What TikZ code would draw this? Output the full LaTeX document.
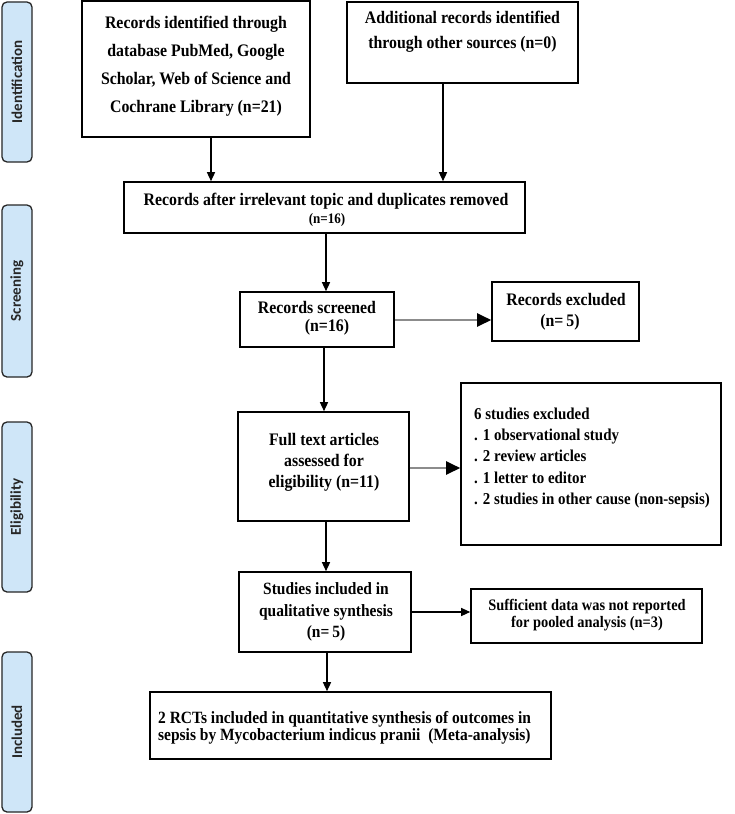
\documentclass[tikz,border=0pt]{standalone}
\usepackage{fontspec}
\setmainfont[FakeStretch=0.9]{Liberation Serif}
\newfontfamily\sidefont{Carlito}
\usetikzlibrary{arrows.meta}
\definecolor{sideblue}{RGB}{207,230,248}
\definecolor{graylink}{RGB}{140,140,140}
\begin{document}
\begin{tikzpicture}[x=1bp,y=-1bp,
  side/.style={draw=black!85, line width=1.3bp, fill=sideblue, rounded corners=5bp, inner sep=0pt, minimum width=30bp},
  sidetxt/.style={font=\sidefont\bfseries\fontsize{15bp}{16bp}\selectfont, text=black!85, rotate=90, inner sep=0pt},
  box/.style={draw, line width=1.6bp, inner sep=0pt},
  txt/.style={inner sep=0pt, font=\bfseries\fontsize{17.6bp}{21bp}\selectfont, align=center},
  arr/.style={line width=1.4bp, -{Triangle[length=9bp,width=8bp]}},
  garr/.style={draw=graylink, line width=2.4bp, -{Triangle[length=14bp,width=13bp,fill=black,color=black]}},
  narr/.style={line width=1.2bp, -{Triangle[length=9bp,width=8bp]}}]
\useasboundingbox (0,0) rectangle (735,814);

% side labels
\node[side, minimum height=160bp] (sid) at (17,82) {};
\node[sidetxt] (sidt) at (sid.center) {Identification};
\node[side, minimum height=172bp] (sscr) at (17,291) {};
\node[sidetxt] (sscrt) at (sscr.center) {Screening};
\node[side, minimum height=170bp] (selig) at (17,507) {};
\node[sidetxt] (seligt) at (selig.center) {Eligibility};
\node[side, minimum height=160bp] (sinc) at (17,732) {};
\node[sidetxt] (sinct) at (sinc.center) {Included};

% boxes
\node[box, minimum width=228bp, minimum height=136bp] (b1) at (196,69) {};
\node[txt, font=\bfseries\fontsize{17.6bp}{28bp}\selectfont] (b1t) at (196,66) {Records identified through\\database PubMed, Google\\Scholar, Web of Science and\\Cochrane Library (n=21)};

\node[box, minimum width=231bp, minimum height=81bp] (b2) at (462.5,42.5) {};
\node[txt, font=\bfseries\fontsize{17.6bp}{25bp}\selectfont] (b2t) at (462.5,32) {Additional records identified\\through other sources (n=0)};

\node[box, minimum width=401bp, minimum height=51bp] (b3) at (324.5,207.5) {};
\node[txt] (b3t) at (326,201) {Records after irrelevant topic and duplicates removed};
\node[txt, font=\bfseries\fontsize{14.5bp}{15bp}\selectfont] (b3n) at (327,220) {(n=16)};

\node[box, minimum width=154bp, minimum height=55bp] (b4) at (317,319.5) {};
\node[txt] (b4t) at (317,307) {Records screened};
\node[txt] (b4n) at (327,327) {(n=16)};

\node[box, minimum width=147bp, minimum height=59bp] (b5) at (565.5,311.5) {};
\node[txt] (b5t) at (566,299) {Records excluded};
\node[txt] (b5n) at (560,322) {(n=\,5)};

\node[box, minimum width=171bp, minimum height=109bp] (b6) at (323.5,466.5) {};
\node[txt] (b6t) at (324,462) {Full text articles\\assessed for\\eligibility (n=11)};

\node[box, minimum width=260bp, minimum height=162bp] (b7) at (591,464) {};
\node[txt, font=\bfseries\fontsize{16.6bp}{21.2bp}\selectfont, align=left, anchor=west] (b7t) at (474,458) {6 studies excluded\\. 1 observational study\\. 2 review articles\\. 1 letter to editor\\. 2 studies in other cause (non-sepsis)};

\node[box, minimum width=172bp, minimum height=80bp] (b8) at (325,612) {};
\node[txt, font=\bfseries\fontsize{17.2bp}{21.5bp}\selectfont] (b8t) at (326,612) {Studies included in\\qualitative synthesis\\(n=\,5)};

\node[box, minimum width=231bp, minimum height=54bp] (b9) at (586.5,616) {};
\node[txt, font=\bfseries\fontsize{16bp}{17bp}\selectfont] (b9t) at (587,615) {Sufficient data was not reported\\for pooled analysis (n=3)};

\node[box, minimum width=401bp, minimum height=67bp] (b10) at (350.5,725.5) {};
\node[txt, font=\bfseries\fontsize{17.2bp}{17bp}\selectfont, align=left, anchor=west] (b10t) at (158,728) {2 RCTs included in quantitative synthesis of outcomes in\\sepsis by Mycobacterium indicus pranii\ \ (Meta-analysis)};

% connectors
\draw[arr] ([xshift=15bp]b1.south) -- ([xshift=15bp]b1.south |- b3.north);
\draw[arr] ([xshift=-19.5bp]b2.south) -- ([xshift=-19.5bp]b2.south |- b3.north);
\draw[arr] ([xshift=1.5bp]b3.south) -- ([xshift=1.5bp]b3.south |- b4.north);
\draw[garr] (b4.east |- 0,320) -- (b5.west |- 0,320);
\draw[arr] ([xshift=7bp]b4.south) -- ([xshift=7bp]b4.south |- b6.north);
\draw[garr] (b6.east |- 0,468) -- (b7.west |- 0,468);
\draw[arr] ([xshift=2.5bp]b6.south) -- ([xshift=2.5bp]b6.south |- b8.north);
\draw[narr] (b8.east |- 0,612) -- (b9.west |- 0,612);
\draw[arr] ([xshift=2bp]b8.south) -- ([xshift=2bp]b8.south |- b10.north);
\end{tikzpicture}
\end{document}
